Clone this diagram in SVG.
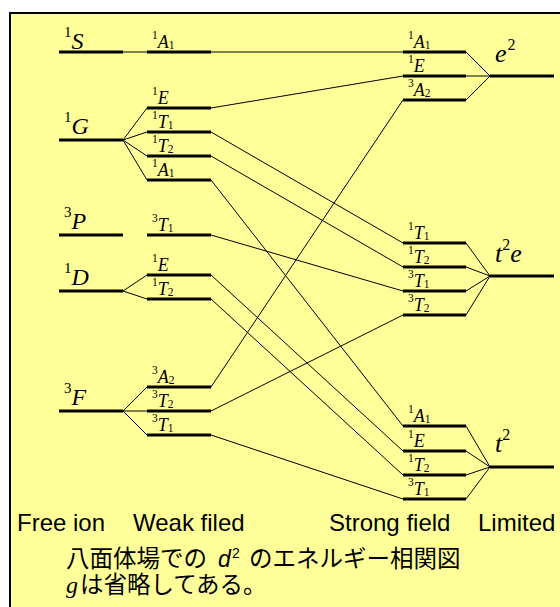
<svg xmlns="http://www.w3.org/2000/svg" width="560" height="607" viewBox="0 0 560 607">
  <defs>
    <style>
      .lv { stroke: #000; stroke-width: 3; fill: none; }
      .cn { stroke: #000; stroke-width: 1; fill: none; }
      text.t { font-family: "Liberation Serif", "Times New Roman", serif; fill: #000; }
      tspan.it { font-style: italic; }
      text.fi tspan.it { font-size: 24px; }
      text.fi tspan.sp { font-size: 15px; }
      text.lb tspan.it { font-size: 18px; }
      text.lb tspan.sp, text.lb tspan.sb { font-size: 11.5px; }
      text.lim tspan.it { font-size: 26px; }
      text.lim tspan.sp { font-size: 16px; }
      .cap { font-family: "Liberation Sans", Arial, sans-serif; font-size: 24px; fill: #000; }
      .jp { font-family: "Noto Sans CJK JP", "Liberation Sans", sans-serif; font-size: 23.5px; fill: #000; }
    </style>
  </defs>

  <!-- panel -->
  <rect x="10" y="13" width="570" height="620" fill="#FFFF99" stroke="#000" stroke-width="2"/>

  <!-- connectors between levels -->
  <g id="connectors" class="cn">
    <!-- free ion to weak field -->
    <line x1="123" y1="52" x2="147" y2="52"/>
    <line x1="123" y1="140" x2="147" y2="108"/>
    <line x1="123" y1="140" x2="147" y2="132"/>
    <line x1="123" y1="140" x2="147" y2="156"/>
    <line x1="123" y1="140" x2="147" y2="180"/>
    <line x1="123" y1="291" x2="147" y2="275"/>
    <line x1="123" y1="291" x2="147" y2="299"/>
    <line x1="123" y1="411" x2="147" y2="387"/>
    <line x1="123" y1="411" x2="147" y2="411"/>
    <line x1="123" y1="411" x2="147" y2="435"/>
    <!-- weak field to strong field -->
    <line x1="211" y1="52" x2="403" y2="52"/>
    <line x1="211" y1="108" x2="403" y2="76"/>
    <line x1="211" y1="132" x2="403" y2="243"/>
    <line x1="211" y1="156" x2="403" y2="267"/>
    <line x1="211" y1="180" x2="403" y2="426"/>
    <line x1="211" y1="235" x2="403" y2="291"/>
    <line x1="211" y1="275" x2="403" y2="451"/>
    <line x1="211" y1="299" x2="403" y2="475"/>
    <line x1="211" y1="387" x2="403" y2="100"/>
    <line x1="211" y1="411" x2="403" y2="315"/>
    <line x1="211" y1="435" x2="403" y2="499"/>
    <!-- strong field to limit -->
    <line x1="466" y1="52" x2="490" y2="76"/>
    <line x1="466" y1="76" x2="490" y2="76"/>
    <line x1="466" y1="100" x2="490" y2="76"/>
    <line x1="466" y1="243" x2="490" y2="276"/>
    <line x1="466" y1="267" x2="490" y2="276"/>
    <line x1="466" y1="291" x2="490" y2="276"/>
    <line x1="466" y1="315" x2="490" y2="276"/>
    <line x1="466" y1="426" x2="490" y2="467"/>
    <line x1="466" y1="451" x2="490" y2="467"/>
    <line x1="466" y1="475" x2="490" y2="467"/>
    <line x1="466" y1="499" x2="490" y2="467"/>
  </g>

  <!-- free ion terms -->
  <g id="free-1S"><line class="lv" x1="59" y1="52" x2="123" y2="52"/>
    <text class="t fi" x="64" y="49"><tspan class="sp" dy="-12">1</tspan><tspan class="it" dy="12">S</tspan></text></g>
  <g id="free-1G"><line class="lv" x1="59" y1="140" x2="123" y2="140"/>
    <text class="t fi" x="64" y="134"><tspan class="sp" dy="-12">1</tspan><tspan class="it" dy="12">G</tspan></text></g>
  <g id="free-3P"><line class="lv" x1="59" y1="235" x2="123" y2="235"/>
    <text class="t fi" x="64" y="229"><tspan class="sp" dy="-12">3</tspan><tspan class="it" dy="12">P</tspan></text></g>
  <g id="free-1D"><line class="lv" x1="59" y1="291" x2="123" y2="291"/>
    <text class="t fi" x="64" y="285"><tspan class="sp" dy="-12">1</tspan><tspan class="it" dy="12">D</tspan></text></g>
  <g id="free-3F"><line class="lv" x1="59" y1="411" x2="123" y2="411"/>
    <text class="t fi" x="64" y="405"><tspan class="sp" dy="-12">3</tspan><tspan class="it" dy="12">F</tspan></text></g>

  <!-- weak field terms -->
  <g id="weak-1A1-S"><line class="lv" x1="147" y1="52" x2="211" y2="52"/>
    <text class="t lb" x="152" y="48"><tspan class="sp" dy="-9">1</tspan><tspan class="it" dy="9">A</tspan><tspan class="sb" dy="1">1</tspan></text></g>
  <g id="weak-1E-G"><line class="lv" x1="147" y1="108" x2="211" y2="108"/>
    <text class="t lb" x="152" y="104"><tspan class="sp" dy="-9">1</tspan><tspan class="it" dy="9">E</tspan></text></g>
  <g id="weak-1T1-G"><line class="lv" x1="147" y1="132" x2="211" y2="132"/>
    <text class="t lb" x="152" y="128"><tspan class="sp" dy="-9">1</tspan><tspan class="it" dy="9">T</tspan><tspan class="sb" dy="1">1</tspan></text></g>
  <g id="weak-1T2-G"><line class="lv" x1="147" y1="156" x2="211" y2="156"/>
    <text class="t lb" x="152" y="152"><tspan class="sp" dy="-9">1</tspan><tspan class="it" dy="9">T</tspan><tspan class="sb" dy="1">2</tspan></text></g>
  <g id="weak-1A1-G"><line class="lv" x1="147" y1="180" x2="211" y2="180"/>
    <text class="t lb" x="152" y="176"><tspan class="sp" dy="-9">1</tspan><tspan class="it" dy="9">A</tspan><tspan class="sb" dy="1">1</tspan></text></g>
  <g id="weak-3T1-P"><line class="lv" x1="147" y1="235" x2="211" y2="235"/>
    <text class="t lb" x="152" y="231"><tspan class="sp" dy="-9">3</tspan><tspan class="it" dy="9">T</tspan><tspan class="sb" dy="1">1</tspan></text></g>
  <g id="weak-1E-D"><line class="lv" x1="147" y1="275" x2="211" y2="275"/>
    <text class="t lb" x="152" y="271"><tspan class="sp" dy="-9">1</tspan><tspan class="it" dy="9">E</tspan></text></g>
  <g id="weak-1T2-D"><line class="lv" x1="147" y1="299" x2="211" y2="299"/>
    <text class="t lb" x="152" y="295"><tspan class="sp" dy="-9">1</tspan><tspan class="it" dy="9">T</tspan><tspan class="sb" dy="1">2</tspan></text></g>
  <g id="weak-3A2-F"><line class="lv" x1="147" y1="387" x2="211" y2="387"/>
    <text class="t lb" x="152" y="383"><tspan class="sp" dy="-9">3</tspan><tspan class="it" dy="9">A</tspan><tspan class="sb" dy="1">2</tspan></text></g>
  <g id="weak-3T2-F"><line class="lv" x1="147" y1="411" x2="211" y2="411"/>
    <text class="t lb" x="152" y="407"><tspan class="sp" dy="-9">3</tspan><tspan class="it" dy="9">T</tspan><tspan class="sb" dy="1">2</tspan></text></g>
  <g id="weak-3T1-F"><line class="lv" x1="147" y1="435" x2="211" y2="435"/>
    <text class="t lb" x="152" y="431"><tspan class="sp" dy="-9">3</tspan><tspan class="it" dy="9">T</tspan><tspan class="sb" dy="1">1</tspan></text></g>

  <!-- strong field terms -->
  <g id="strong-1A1-e2"><line class="lv" x1="403" y1="52" x2="466" y2="52"/>
    <text class="t lb" x="408" y="48"><tspan class="sp" dy="-9">1</tspan><tspan class="it" dy="9">A</tspan><tspan class="sb" dy="1">1</tspan></text></g>
  <g id="strong-1E-e2"><line class="lv" x1="403" y1="76" x2="466" y2="76"/>
    <text class="t lb" x="408" y="72"><tspan class="sp" dy="-9">1</tspan><tspan class="it" dy="9">E</tspan></text></g>
  <g id="strong-3A2-e2"><line class="lv" x1="403" y1="100" x2="466" y2="100"/>
    <text class="t lb" x="408" y="96"><tspan class="sp" dy="-9">3</tspan><tspan class="it" dy="9">A</tspan><tspan class="sb" dy="1">2</tspan></text></g>
  <g id="strong-1T1-t2e"><line class="lv" x1="403" y1="243" x2="466" y2="243"/>
    <text class="t lb" x="408" y="239"><tspan class="sp" dy="-9">1</tspan><tspan class="it" dy="9">T</tspan><tspan class="sb" dy="1">1</tspan></text></g>
  <g id="strong-1T2-t2e"><line class="lv" x1="403" y1="267" x2="466" y2="267"/>
    <text class="t lb" x="408" y="263"><tspan class="sp" dy="-9">1</tspan><tspan class="it" dy="9">T</tspan><tspan class="sb" dy="1">2</tspan></text></g>
  <g id="strong-3T1-t2e"><line class="lv" x1="403" y1="291" x2="466" y2="291"/>
    <text class="t lb" x="408" y="287"><tspan class="sp" dy="-9">3</tspan><tspan class="it" dy="9">T</tspan><tspan class="sb" dy="1">1</tspan></text></g>
  <g id="strong-3T2-t2e"><line class="lv" x1="403" y1="315" x2="466" y2="315"/>
    <text class="t lb" x="408" y="311"><tspan class="sp" dy="-9">3</tspan><tspan class="it" dy="9">T</tspan><tspan class="sb" dy="1">2</tspan></text></g>
  <g id="strong-1A1-t2"><line class="lv" x1="403" y1="426" x2="466" y2="426"/>
    <text class="t lb" x="408" y="422"><tspan class="sp" dy="-9">1</tspan><tspan class="it" dy="9">A</tspan><tspan class="sb" dy="1">1</tspan></text></g>
  <g id="strong-1E-t2"><line class="lv" x1="403" y1="451" x2="466" y2="451"/>
    <text class="t lb" x="408" y="447"><tspan class="sp" dy="-9">1</tspan><tspan class="it" dy="9">E</tspan></text></g>
  <g id="strong-1T2-t2"><line class="lv" x1="403" y1="475" x2="466" y2="475"/>
    <text class="t lb" x="408" y="471"><tspan class="sp" dy="-9">1</tspan><tspan class="it" dy="9">T</tspan><tspan class="sb" dy="1">2</tspan></text></g>
  <g id="strong-3T1-t2"><line class="lv" x1="403" y1="499" x2="466" y2="499"/>
    <text class="t lb" x="408" y="495"><tspan class="sp" dy="-9">3</tspan><tspan class="it" dy="9">T</tspan><tspan class="sb" dy="1">1</tspan></text></g>

  <!-- strong-field limit configurations -->
  <g id="limit-e2"><line class="lv" x1="490" y1="76" x2="554" y2="76"/>
    <text class="t lim" x="495" y="62"><tspan class="it">e</tspan><tspan class="sp" dx="1" dy="-12">2</tspan></text></g>
  <g id="limit-t2e"><line class="lv" x1="490" y1="276" x2="554" y2="276"/>
    <text class="t lim" x="495" y="262"><tspan class="it">t</tspan><tspan class="sp" dy="-12">2</tspan><tspan class="it" dy="12">e</tspan></text></g>
  <g id="limit-t2"><line class="lv" x1="490" y1="467" x2="554" y2="467"/>
    <text class="t lim" x="495" y="452"><tspan class="it">t</tspan><tspan class="sp" dy="-12">2</tspan></text></g>

  <!-- column captions -->
  <g id="captions" class="cap">
    <text x="17" y="531">Free ion</text>
    <text x="133" y="531">Weak filed</text>
    <text x="329" y="531">Strong field</text>
    <text x="478" y="531">Limited</text>
  </g>

  <!-- note -->
  <g id="note">
    <text class="jp" x="66" y="567">八面体場での</text>
    <text x="218" y="567" font-family="Liberation Sans, Arial, sans-serif" font-style="italic" font-size="23">d</text>
    <text x="232" y="558" font-family="Liberation Sans, Arial, sans-serif" font-size="14">2</text>
    <text class="jp" x="249" y="567">のエネルギー相関図</text>
    <text x="66" y="593" font-family="Liberation Serif, serif" font-style="italic" font-size="24">g</text>
    <text class="jp" x="80" y="593">は省略してある。</text>
  </g>
</svg>
